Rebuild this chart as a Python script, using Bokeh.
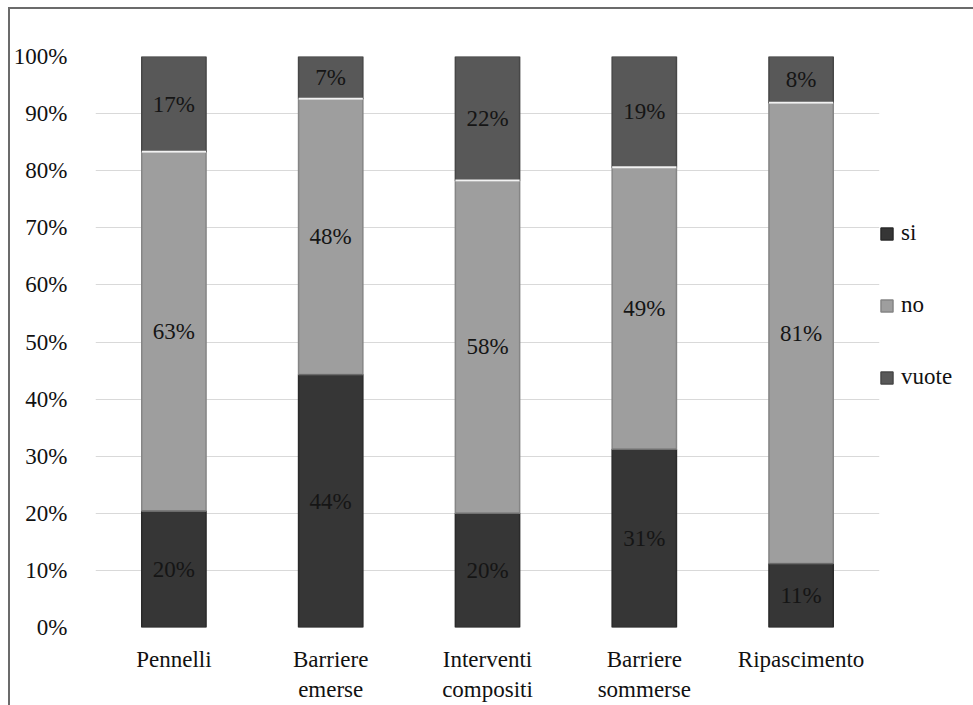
from bokeh.plotting import figure
from bokeh.models import (FactorRange, FixedTicker, Legend, LegendItem,
                          ColumnDataSource, InlineStyleSheet)
from bokeh.embed import file_html
from bokeh.resources import INLINE
from bokeh.core.properties import value

categories = ["Pennelli", "Barriere\nemerse", "Interventi\ncompositi",
              "Barriere\nsommerse", "Ripascimento"]
si = [20.4, 44.3, 20.0, 31.2, 11.2]
no = [62.9, 48.3, 58.3, 49.4, 80.7]
vuote = [16.7, 7.4, 21.7, 19.4, 8.1]
series_names = ["si", "no", "vuote"]
y_ticks = [0, 10, 20, 30, 40, 50, 60, 70, 80, 90, 100]

colors = {"si": "#363636", "no": "#9e9e9e", "vuote": "#585858"}
edge = {"si": "#2a2a2a", "no": "#858585", "vuote": "#474747"}
FONT = "Liberation Serif"

src = ColumnDataSource(dict(cat=categories, si=si, no=no, vuote=vuote))

p = figure(frame_width=784, frame_height=571, x_range=FactorRange(*categories),
           y_range=(0, 100), output_backend="svg", toolbar_location=None,
           min_border_left=85, min_border_right=94, min_border_top=47,
           min_border_bottom=78)
p.margin = (7, 0, 0, 8)
p.styles = {"border-top": "2px solid #6b6b6b", "border-left": "2px solid #6b6b6b"}
p.stylesheets = [InlineStyleSheet(css="text { font-family: 'Liberation Serif', serif !important; }")]
p.outline_line_color = None
p.background_fill_color = "white"
p.border_fill_color = "white"

rs = p.vbar_stack(series_names, x="cat", width=0.41, source=src,
                  fill_color=[colors[s] for s in series_names],
                  line_color=[edge[s] for s in series_names], line_width=1.5)

tops_si = si
tops_no = [a + b for a, b in zip(si, no)]
p.rect(x=categories, y=tops_no, width=0.41, height=2, height_units="screen",
       fill_color="#f2f2f2", line_color=None)
p.rect(x=categories, y=tops_si, width=0.41, height=1, height_units="screen",
       fill_color="#6a6a6a", line_color=None)

lx, ly, lt = [], [], []
for i, c in enumerate(categories):
    base = 0
    for vals in (si, no, vuote):
        v = vals[i]
        lx.append(c)
        ly.append(base + v / 2)
        lt.append(f"{round(v)}%")
        base += v
p.text(x=lx, y=ly, text=lt, text_align="center", text_baseline="middle",
       text_font=value(FONT), text_font_size="23px", text_color="#151515")

p.yaxis.ticker = FixedTicker(ticks=y_ticks)
p.yaxis.major_label_overrides = {t: f"{t}%" for t in y_ticks}
p.yaxis.axis_line_color = None
p.yaxis.major_tick_line_color = None
p.yaxis.minor_tick_line_color = None
p.yaxis.major_label_text_font = FONT
p.yaxis.major_label_text_font_size = "23px"
p.yaxis.major_label_text_color = "#111111"
p.yaxis.major_label_standoff = 22

p.xaxis.axis_line_color = None
p.xaxis.major_tick_line_color = None
p.xaxis.major_label_text_font = FONT
p.xaxis.major_label_text_font_size = "23px"
p.xaxis.major_label_text_color = "#111111"
p.xaxis.major_label_standoff = 13

p.xgrid.grid_line_color = None
p.ygrid.grid_line_color = "#d9d9d9"
p.ygrid.grid_line_width = 1

legend = Legend(items=[LegendItem(label=s, renderers=[r]) for s, r in zip(series_names, rs)],
                location=(0, 237), orientation="vertical",
                glyph_width=15, glyph_height=15, label_height=20,
                spacing=46, padding=0, margin=0, label_standoff=7,
                label_text_font=FONT, label_text_font_size="23px",
                label_text_color="#111111", border_line_color=None,
                background_fill_alpha=0)
p.add_layout(legend, "right")

open("out.html", "w").write(file_html(p, INLINE))
